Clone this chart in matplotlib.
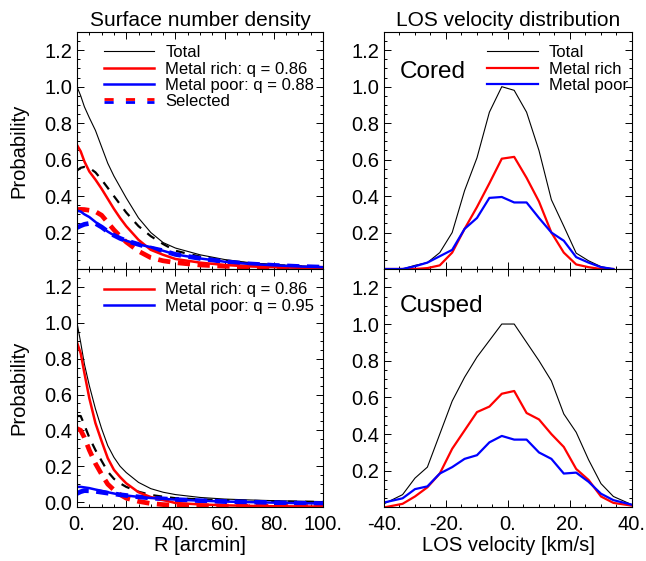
import matplotlib
matplotlib.use("Agg")
import matplotlib.pyplot as plt
from matplotlib.lines import Line2D
from matplotlib.legend_handler import HandlerBase
from matplotlib.ticker import MultipleLocator, FormatStrFormatter, FixedLocator

plt.rcParams['font.family'] = ['Liberation Sans', 'DejaVu Sans']

# ---- surface number density (left column) ----
R = [0, 1.5, 3, 5, 7.5, 10, 12.5, 15, 17.5, 20, 25, 30, 35, 40, 50, 60, 70, 80, 90, 100]

cored_total = [1.0, 0.95, 0.89, 0.83, 0.76, 0.67, 0.58, 0.51, 0.45, 0.39, 0.28, 0.2, 0.145, 0.115,
               0.078, 0.052, 0.035, 0.024, 0.017, 0.012]
cored_total_sel = [0.54, 0.555, 0.56, 0.555, 0.53, 0.49, 0.445, 0.4, 0.355, 0.31, 0.235, 0.18, 0.137, 0.1,
                   0.068, 0.045, 0.03, 0.021, 0.015, 0.01]
cored_rich = [0.68, 0.645, 0.59, 0.535, 0.49, 0.44, 0.385, 0.33, 0.28, 0.235, 0.16, 0.105, 0.078, 0.055,
              0.035, 0.022, 0.014, 0.01, 0.007, 0.005]
cored_rich_sel = [0.326, 0.327, 0.326, 0.322, 0.315, 0.295, 0.255, 0.215, 0.18, 0.148, 0.098, 0.062, 0.045,
                  0.035, 0.022, 0.015, 0.01, 0.007, 0.005, 0.004]
cored_poor = [0.32, 0.315, 0.3, 0.285, 0.258, 0.23, 0.205, 0.185, 0.168, 0.155, 0.135, 0.12, 0.1, 0.08,
              0.058, 0.04, 0.028, 0.02, 0.014, 0.01]
cored_poor_sel = [0.227, 0.237, 0.245, 0.25, 0.25, 0.23, 0.205, 0.185, 0.168, 0.155, 0.135, 0.115, 0.1, 0.08,
                  0.058, 0.04, 0.028, 0.02, 0.014, 0.01]

cusp_total = [1.0, 0.89, 0.77, 0.65, 0.52, 0.41, 0.315, 0.25, 0.2, 0.165, 0.11, 0.075, 0.055, 0.042,
              0.026, 0.017, 0.012, 0.008, 0.005, 0.003]
cusp_total_sel = [0.48, 0.48, 0.43, 0.36, 0.29, 0.23, 0.17, 0.13, 0.105, 0.085, 0.058, 0.04, 0.03, 0.022,
                  0.015, 0.01, 0.007, 0.004, 0.002, 0.001]
cusp_rich = [0.89, 0.83, 0.72, 0.58, 0.44, 0.34, 0.245, 0.18, 0.14, 0.105, 0.055, 0.028, 0.012, -0.005,
             -0.013, -0.018, -0.021, -0.023, -0.024, -0.025]
cusp_rich_sel = [0.41, 0.4, 0.36, 0.29, 0.215, 0.155, 0.1, 0.068, 0.042, 0.022, 0.004, -0.008, -0.014, -0.017,
                 -0.02, -0.022, -0.023, -0.024, -0.025, -0.025]
cusp_poor = [0.085, 0.085, 0.082, 0.078, 0.07, 0.063, 0.055, 0.048, 0.042, 0.037, 0.029, 0.023, 0.018, 0.014,
             0.008, 0.003, 0.0, -0.003, -0.006, -0.008]
cusp_poor_sel = [0.048, 0.058, 0.064, 0.063, 0.06, 0.055, 0.05, 0.046, 0.041, 0.037, 0.029, 0.023, 0.018, 0.014,
                 0.008, 0.003, 0.0, -0.003, -0.006, -0.008]

# ---- LOS velocity distribution (right column) ----
v_cored = [-40, -34, -30, -26, -22, -18, -14, -10, -6, -2, 2, 6, 10, 14, 18, 22, 26, 30, 34]
vd_cored_total = [0.0, 0.0, 0.02, 0.035, 0.09, 0.2, 0.43, 0.61, 0.86, 1.0, 0.98, 0.86, 0.65, 0.38, 0.235,
                  0.087, 0.045, 0.013, 0.0]
vd_cored_rich = [0.0, 0.0, 0.0, 0.005, 0.02, 0.09, 0.22, 0.34, 0.47, 0.605, 0.615, 0.5, 0.37, 0.2, 0.09,
                 0.025, 0.01, 0.0, 0.0]
vd_cored_poor = [0.0, 0.0, 0.015, 0.035, 0.07, 0.105, 0.22, 0.28, 0.39, 0.395, 0.365, 0.365, 0.28, 0.2, 0.155,
                 0.065, 0.035, 0.01, 0.0]

v_cusp = [-40, -34, -30, -26, -22, -18, -14, -10, -6, -2, 2, 6, 10, 14, 18, 22, 26, 30, 34, 40]
vd_cusp_total = [0.02, 0.07, 0.16, 0.22, 0.4, 0.58, 0.71, 0.82, 0.91, 1.0, 1.0, 0.9, 0.8, 0.69, 0.51, 0.41,
                 0.26, 0.13, 0.06, 0.015]
vd_cusp_rich = [0.0, 0.02, 0.06, 0.11, 0.185, 0.32, 0.42, 0.52, 0.55, 0.62, 0.635, 0.515, 0.48, 0.4, 0.33,
                0.21, 0.15, 0.06, 0.025, 0.01]
vd_cusp_poor = [0.027, 0.05, 0.1, 0.115, 0.185, 0.22, 0.265, 0.285, 0.355, 0.39, 0.37, 0.37, 0.3, 0.265, 0.185,
                0.19, 0.14, 0.075, 0.04, 0.015]

RED = '#ff0000'
BLUE = '#0000ff'
FS = 14.5
LEG = dict(loc='upper left', frameon=False, fontsize=12, handlelength=3.05, handletextpad=0.65,
           labelspacing=0.08, borderpad=0, borderaxespad=0)


class HandlerSelected(HandlerBase):
    # red dashes stacked on top of blue dashes
    def create_artists(self, legend, orig_handle, xdescent, ydescent, width, height, fontsize, trans):
        y = height / 2 - ydescent
        out = []
        for dy, c in [(1.3, RED), (-1.3, BLUE)]:
            ln = Line2D([-xdescent, width - xdescent], [y + dy, y + dy], color=c, lw=2.0,
                        ls=(0, (3.3, 4.4)), transform=trans)
            out.append(ln)
        return out


def style(ax, xlim, ylim, yticks):
    ax.set_xlim(*xlim)
    ax.set_ylim(*ylim)
    ax.xaxis.set_major_locator(MultipleLocator(20))
    ax.xaxis.set_minor_locator(MultipleLocator(5))
    ax.yaxis.set_major_locator(FixedLocator(yticks))
    ax.yaxis.set_minor_locator(MultipleLocator(0.05))
    ax.xaxis.set_major_formatter(FormatStrFormatter('%d.'))
    ax.yaxis.set_major_formatter(FormatStrFormatter('%.1f'))
    ax.tick_params(which='both', direction='in', top=True, right=True, width=0.7, labelsize=FS)
    ax.tick_params(which='major', length=4.7)
    ax.tick_params(which='minor', length=2.5)
    ax.tick_params(axis='x', pad=5.5)
    ax.tick_params(axis='y', pad=3.5)
    for s in ax.spines.values():
        s.set_linewidth(0.8)


fig = plt.figure(figsize=(6.46, 5.61), dpi=100)
ax1 = fig.add_axes([0.1192, 0.5205, 0.3808, 0.4225])
ax2 = fig.add_axes([0.5944, 0.5205, 0.3839, 0.4225])
ax3 = fig.add_axes([0.1192, 0.0954, 0.3808, 0.4251])
ax4 = fig.add_axes([0.5944, 0.0954, 0.3839, 0.4251])

top_ticks = [0.2, 0.4, 0.6, 0.8, 1.0, 1.2]

# top left: cored surface density
h_tot, = ax1.plot(R, cored_total, color='black', lw=0.8)
ax1.plot(R, cored_total_sel, color='black', lw=1.6, ls=(0, (4, 3.6)))
ax1.plot(R, cored_rich_sel, color=RED, lw=3.4, ls=(0, (2.6, 1.6)))
ax1.plot(R, cored_poor_sel, color=BLUE, lw=3.4, ls=(0, (2.6, 1.6)))
h_rich, = ax1.plot(R, cored_rich, color=RED, lw=1.8)
h_poor, = ax1.plot(R, cored_poor, color=BLUE, lw=1.8)
style(ax1, (0, 100), (0, 1.3), top_ticks)
ax1.set_ylabel('Probability', fontsize=FS, labelpad=11)
ax1.set_title('Surface number density', fontsize=15, pad=4)
ax1.tick_params(labelbottom=False)
sel_handle = Line2D([], [])
ax1.legend([h_tot, h_rich, h_poor, sel_handle],
           ['Total', 'Metal rich: q = 0.86', 'Metal poor: q = 0.88', 'Selected'],
           handler_map={sel_handle: HandlerSelected()},
           bbox_to_anchor=(0.108, 0.944), **LEG)

# bottom left: cusped surface density
ax3.plot(R, cusp_total, color='black', lw=0.8)
ax3.plot(R, cusp_total_sel, color='black', lw=1.6, ls=(0, (4, 3.6)))
ax3.plot(R, cusp_rich_sel, color=RED, lw=3.4, ls=(0, (2.6, 1.6)))
ax3.plot(R, cusp_poor_sel, color=BLUE, lw=3.4, ls=(0, (2.6, 1.6)))
h_rich3, = ax3.plot(R, cusp_rich, color=RED, lw=1.8)
h_poor3, = ax3.plot(R, cusp_poor, color=BLUE, lw=1.8)
style(ax3, (0, 100), (-0.03, 1.3), [0.0, 0.2, 0.4, 0.6, 0.8, 1.0, 1.2])
ax3.set_ylabel('Probability', fontsize=FS, labelpad=11)
ax3.set_xlabel('R [arcmin]', fontsize=FS, labelpad=1)
ax3.legend([h_rich3, h_poor3], ['Metal rich: q = 0.86', 'Metal poor: q = 0.95'],
           bbox_to_anchor=(0.108, 0.944), **LEG)

# top right: cored LOS velocity
g_tot, = ax2.plot(v_cored, vd_cored_total, color='black', lw=0.8)
g_rich, = ax2.plot(v_cored, vd_cored_rich, color=RED, lw=1.6)
g_poor, = ax2.plot(v_cored, vd_cored_poor, color=BLUE, lw=1.6)
style(ax2, (-40, 40), (0, 1.3), top_ticks)
ax2.set_title('LOS velocity distribution', fontsize=15, pad=4)
ax2.tick_params(labelbottom=False)
ax2.text(0.065, 0.83, 'Cored', transform=ax2.transAxes, fontsize=17.5, va='center', ha='left')
ax2.legend([g_tot, g_rich, g_poor], ['Total', 'Metal rich', 'Metal poor'],
           bbox_to_anchor=(0.415, 0.944), **LEG)

# bottom right: cusped LOS velocity
ax4.plot(v_cusp, vd_cusp_total, color='black', lw=0.8)
ax4.plot(v_cusp, vd_cusp_rich, color=RED, lw=1.6)
ax4.plot(v_cusp, vd_cusp_poor, color=BLUE, lw=1.6)
style(ax4, (-40, 40), (0, 1.3), top_ticks)
ax4.set_xlabel('LOS velocity [km/s]', fontsize=FS, labelpad=1)
ax4.text(0.065, 0.845, 'Cusped', transform=ax4.transAxes, fontsize=17.5, va='center', ha='left')

fig.savefig('out.png', dpi=100)
